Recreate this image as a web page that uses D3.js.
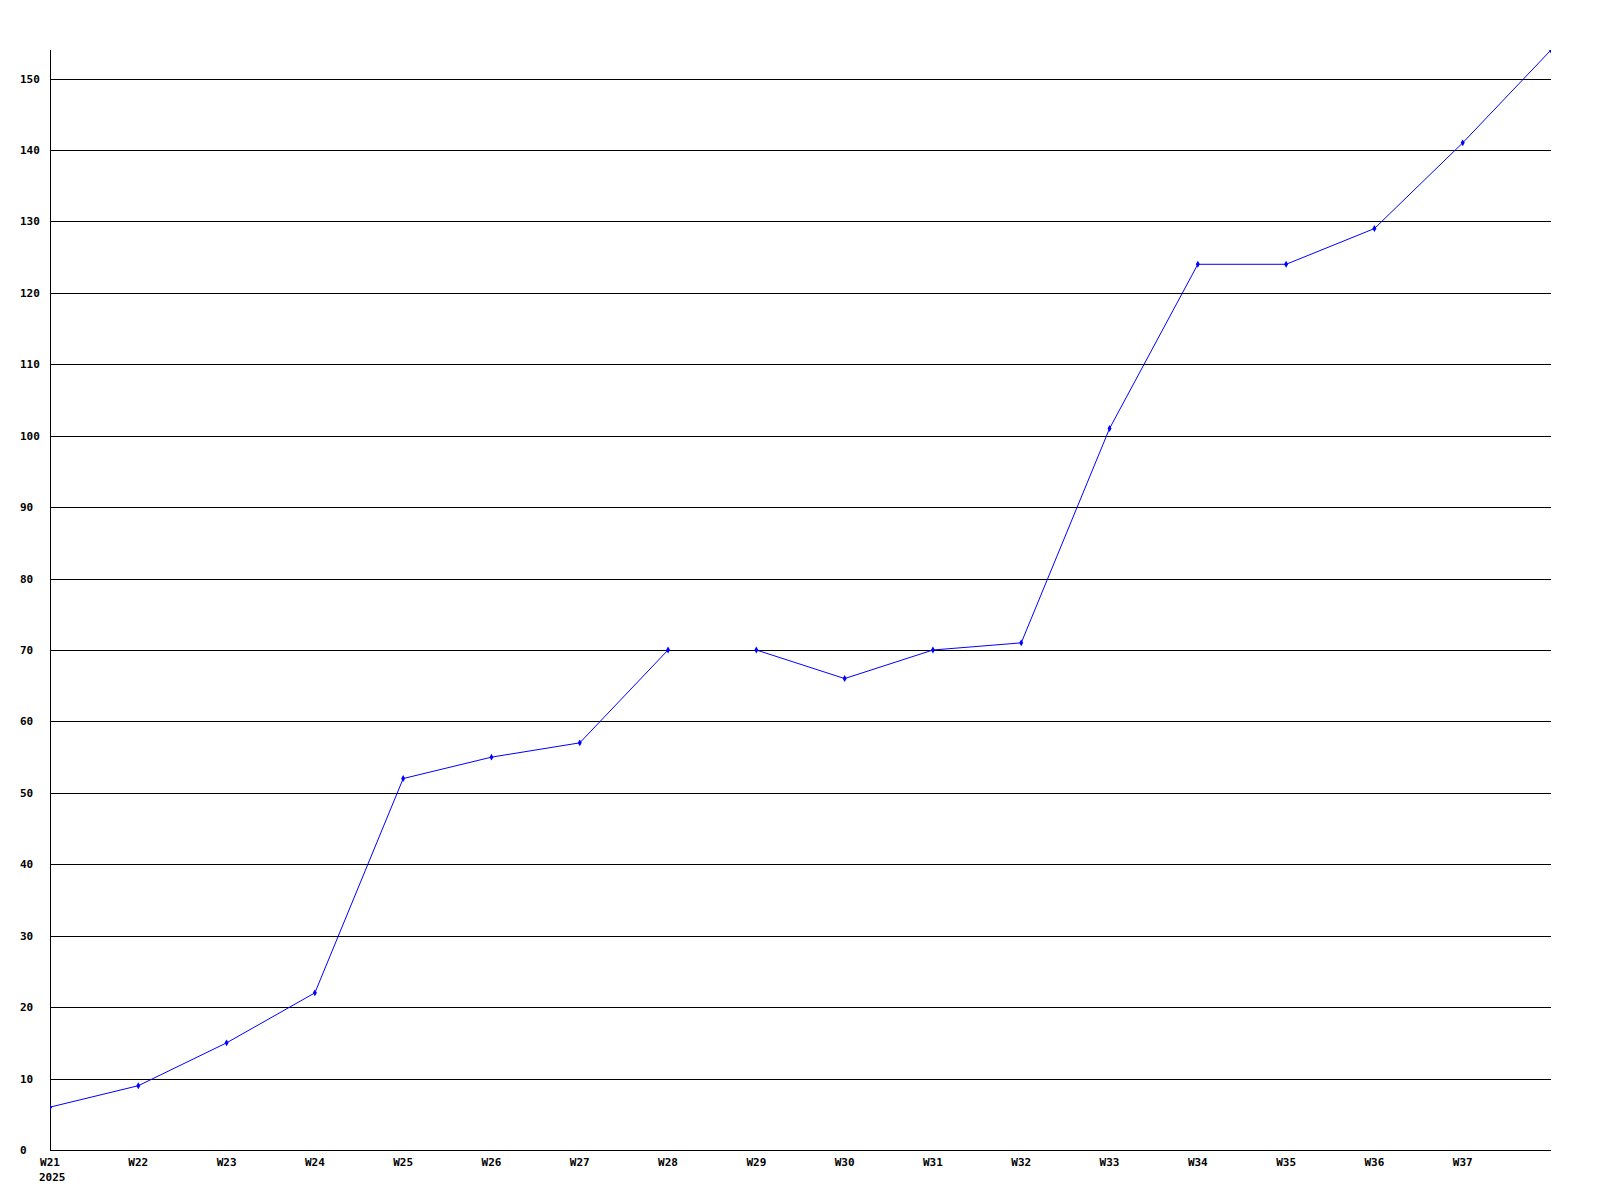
<!DOCTYPE html>
<html>
<head>
<meta charset="utf-8">
<script src="https://cdn.jsdelivr.net/npm/d3@7"></script>
<style>
  html, body { margin: 0; padding: 0; background: #fff; }
  svg text { font-family: "DejaVu Sans Mono", "Liberation Mono", monospace; font-weight: bold; font-size: 11px; fill: #000; }
</style>
</head>
<body>
<svg id="chart" width="1600" height="1200"></svg>
<script>
const weeks = ["W21","W22","W23","W24","W25","W26","W27","W28","W29","W30","W31","W32","W33","W34","W35","W36","W37","W38"];
const values = [6, 9, 15, 22, 52, 55, 57, 70, 70, 66, 70, 71, 101, 124, 124, 129, 141, 154];
// segment id: the line is not connected between W28 and W29
const segments = [0,0,0,0,0,0,0,0,1,1,1,1,1,1,1,1,1,1];
const yTicks = [0,10,20,30,40,50,60,70,80,90,100,110,120,130,140,150];
const xTickLabels = weeks.slice(0, 17);
const yearLabel = "2025";
const yMax = 154;

const svg = d3.select("#chart");
const plotLeft = 50, plotRight = 1551, plotTop = 50, plotBottom = 1150;

const x = d3.scalePoint().domain(weeks).range([plotLeft, plotRight]);
const y = d3.scaleLinear().domain([0, yMax]).range([plotBottom, plotTop]);

// gridlines
svg.append("g").selectAll("line")
  .data(yTicks.filter(t => t > 0))
  .join("line")
  .attr("x1", plotLeft).attr("x2", plotRight)
  .attr("y1", d => Math.round(y(d)) + 0.5).attr("y2", d => Math.round(y(d)) + 0.5)
  .attr("stroke", "#000").attr("stroke-width", 1);

// axes lines
svg.append("line").attr("x1", plotLeft + 0.5).attr("x2", plotLeft + 0.5).attr("y1", plotTop).attr("y2", plotBottom + 0.5)
  .attr("stroke", "#000");
svg.append("line").attr("x1", plotLeft).attr("x2", plotRight).attr("y1", plotBottom + 0.5).attr("y2", plotBottom + 0.5)
  .attr("stroke", "#000");

// y labels
svg.append("g").selectAll("text")
  .data(yTicks)
  .join("text")
  .attr("x", 20)
  .attr("y", d => Math.round(y(d)) + 4)
  .text(d => d);

// x labels
svg.append("g").selectAll("text")
  .data(xTickLabels)
  .join("text")
  .attr("x", d => x(d))
  .attr("y", 1166)
  .attr("text-anchor", "middle")
  .text(d => d);
svg.append("text").attr("x", 39).attr("y", 1181).text(yearLabel);

// clip
svg.append("clipPath").attr("id", "plot")
  .append("rect").attr("x", plotLeft).attr("y", plotTop).attr("width", plotRight - plotLeft).attr("height", plotBottom - plotTop);

const pts = weeks.map((w, i) => ({ w, v: values[i], s: segments[i] }));
const groups = d3.groups(pts, d => d.s);
const line = d3.line().x(d => x(d.w)).y(d => y(d.v));

const g = svg.append("g").attr("clip-path", "url(#plot)");
g.selectAll("path.seg")
  .data(groups)
  .join("path")
  .attr("class", "seg")
  .attr("d", d => line(d[1]))
  .attr("fill", "none")
  .attr("stroke", "#0000ff")
  .attr("stroke-width", 1);

g.selectAll("path.mk")
  .data(pts)
  .join("path")
  .attr("class", "mk")
  .attr("transform", d => `translate(${x(d.w)},${y(d.v)})`)
  .attr("d", d3.symbol().type(d3.symbolDiamond).size(14))
  .attr("fill", "#0000ff");
</script>
</body>
</html>
